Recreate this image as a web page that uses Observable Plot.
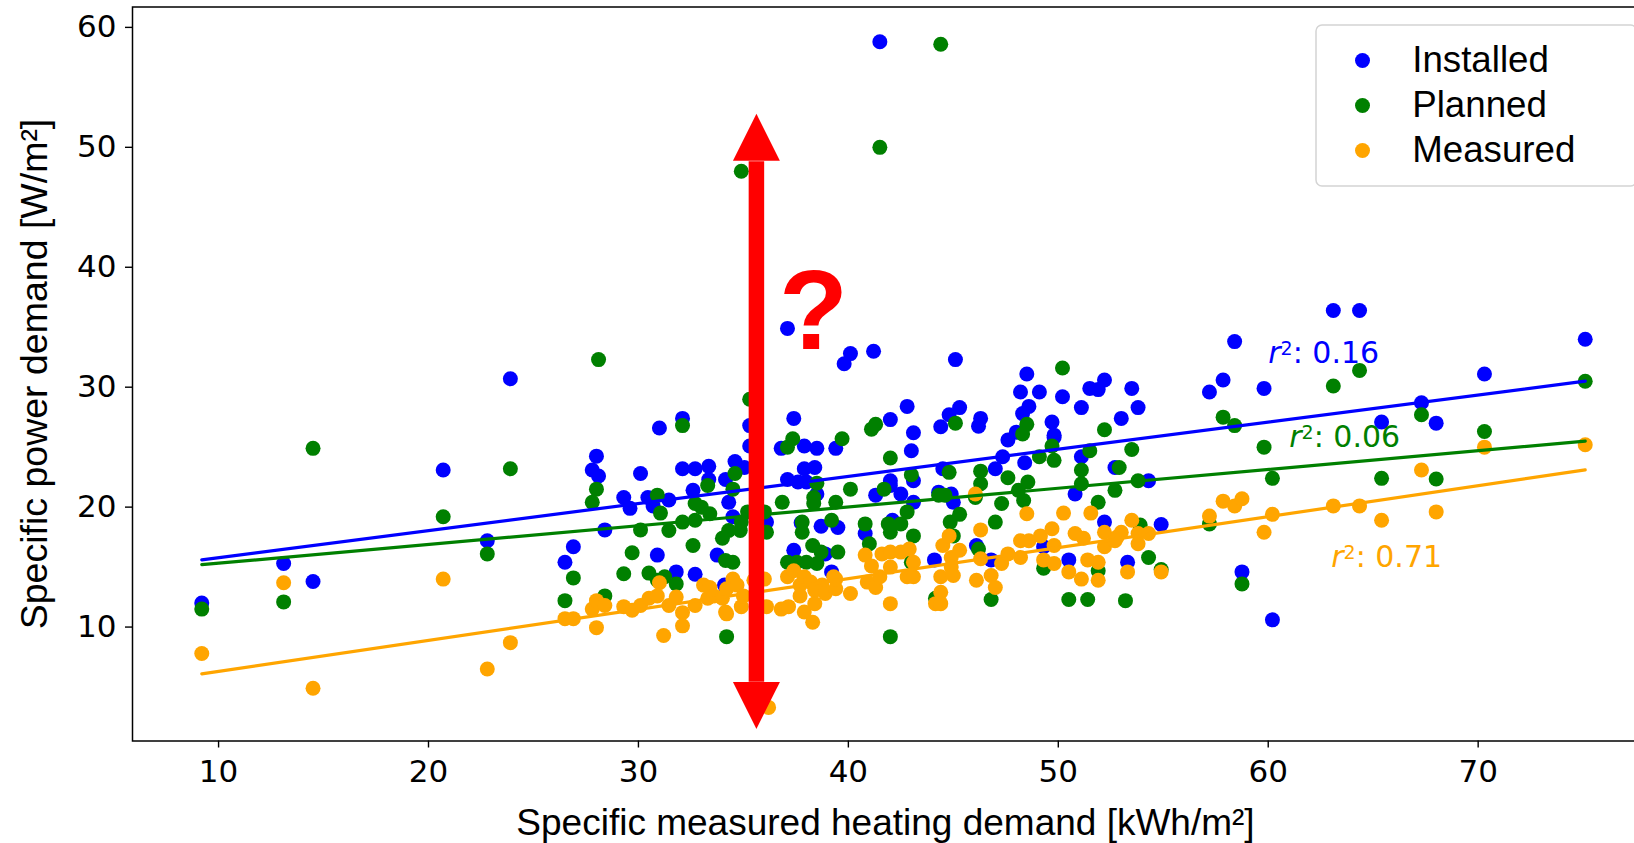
<!DOCTYPE html>
<html><head><meta charset="utf-8">
<script src="https://cdn.jsdelivr.net/npm/d3@7"></script>
<script src="https://cdn.jsdelivr.net/npm/@observablehq/plot@0.6"></script>
<style>
html, body { margin:0; padding:0; background:#fff; overflow:hidden; width:1634px; height:843px; }
#chart svg { display:block; max-width:none !important; }
</style></head>
<body><div id="chart"></div>
<script>
// ---- data: [heating demand kWh/m², power demand W/m²] ----
const installed = [
[9.2,12.0],[13.1,15.3],[14.5,13.8],[20.7,23.1],[22.8,17.2],[23.9,30.7],[26.5,15.4],[26.9,16.7],
[27.8,23.1],[28.0,24.25],[28.1,22.6],[28.4,18.1],[29.3,20.8],[29.6,19.9],[30.1,22.8],[30.45,20.8],
[30.7,20.1],[30.9,16.0],[31.0,26.6],[31.45,20.6],[31.8,14.6],[32.1,27.4],[32.1,23.2],[32.6,21.4],
[32.7,23.2],[32.7,14.4],[33.35,23.4],[33.35,22.3],[33.75,16.0],[34.1,13.5],[34.15,22.3],[34.3,20.4],
[34.5,19.2],[34.6,23.8],[35.05,23.3],[35.3,26.8],[35.3,25.1],[36.1,18.75],[36.8,24.9],[37.1,34.9],
[37.1,22.3],[37.4,27.4],[37.4,16.4],[37.6,22.1],[37.75,18.7],[37.9,25.1],[37.9,23.2],[38.0,22.1],
[38.4,23.3],[38.5,24.9],[38.5,21.1],[38.7,18.4],[38.9,16.1],[39.2,14.6],[39.4,24.9],[39.5,18.3],
[39.8,31.95],[40.1,32.8],[40.8,17.8],[41.2,33.0],[41.3,21.0],[41.5,58.8],[42.0,27.3],[42.0,22.2],
[42.0,21.8],[42.1,18.9],[42.5,21.1],[42.8,28.4],[43.0,24.7],[43.1,26.2],[43.1,22.2],[43.1,20.4],
[44.1,15.6],[44.3,21.25],[44.4,26.7],[44.5,23.2],[44.8,27.7],[44.9,21.1],[45.0,20.4],[45.1,32.3],
[45.3,28.3],[46.1,16.8],[46.2,26.75],[46.3,27.4],[46.8,15.6],[47.0,23.2],[47.35,24.2],[47.6,25.6],
[48.0,26.25],[48.2,29.6],[48.3,27.8],[48.4,23.7],[48.5,31.1],[48.6,28.4],[49.1,29.6],[49.3,16.7],
[49.7,27.1],[49.8,26.0],[49.8,25.8],[50.2,29.2],[50.5,15.6],[50.8,21.1],[51.1,28.3],[51.1,24.2],
[51.5,29.9],[51.9,29.8],[52.2,30.6],[52.2,18.75],[52.7,23.3],[53.0,27.4],[53.3,15.4],[53.5,29.9],
[53.8,28.3],[54.3,22.2],[54.9,18.55],[57.2,29.6],[57.85,30.6],[58.4,33.8],[58.75,14.6],[59.8,29.9],
[60.2,10.6],[63.1,36.4],[64.35,36.4],[65.4,27.1],[67.3,28.7],[68.0,27.0],[70.3,31.1],[75.1,34.0]
];
const planned = [
[9.2,11.5],[13.1,12.1],[14.5,24.9],[20.7,19.2],[22.8,16.1],[23.9,23.2],[26.5,12.2],[26.9,14.1],
[27.8,20.4],[28.0,21.5],[28.1,32.3],[28.4,12.6],[29.3,14.45],[29.7,16.2],[30.1,18.1],[30.5,14.5],
[30.9,21.0],[30.9,13.9],[31.05,19.5],[31.25,14.2],[31.45,18.05],[31.8,13.6],[32.1,26.8],[32.1,18.75],
[32.6,16.8],[32.7,20.3],[32.7,18.9],[33.0,20.0],[33.3,21.8],[33.4,19.45],[34.0,17.4],[34.15,15.55],
[34.2,9.2],[34.3,18.05],[34.5,21.5],[34.5,15.4],[34.6,22.8],[34.85,18.05],[34.9,18.75],[34.9,48.0],
[35.2,19.6],[35.3,29.0],[36.0,19.6],[36.1,17.9],[36.85,20.4],[37.1,25.0],[37.1,15.4],[37.35,25.7],
[37.55,15.4],[37.8,18.75],[37.8,17.9],[38.0,15.4],[38.3,16.8],[38.35,20.8],[38.35,20.3],[38.5,22.0],
[38.5,15.3],[38.7,16.25],[39.2,18.9],[39.4,20.4],[39.5,16.25],[39.7,25.7],[40.1,21.5],[40.8,18.6],
[41.0,16.95],[41.1,26.5],[41.3,26.9],[41.5,50.0],[41.7,21.5],[41.9,18.6],[42.0,24.1],[42.0,17.9],
[42.0,9.2],[42.5,18.6],[42.8,19.6],[43.0,22.7],[43.0,15.4],[43.1,17.6],[44.15,12.4],[44.3,21.0],
[44.4,58.6],[44.6,21.0],[44.8,22.9],[44.85,18.75],[45.0,17.6],[45.1,27.0],[45.3,19.4],[46.05,20.8],
[46.2,16.5],[46.3,23.0],[46.3,21.95],[46.8,12.3],[47.0,18.75],[47.3,20.3],[47.6,22.45],[48.1,21.4],
[48.3,26.1],[48.35,20.55],[48.5,26.9],[48.55,22.1],[49.1,24.2],[49.3,14.9],[49.7,25.1],[49.8,23.9],
[50.2,31.6],[50.5,12.3],[51.1,23.1],[51.1,21.95],[51.4,12.3],[51.5,24.7],[51.9,20.4],[51.9,14.7],
[52.2,26.45],[52.7,21.4],[52.9,23.3],[53.2,12.2],[53.5,24.8],[53.8,22.2],[53.9,18.5],[54.3,15.8],
[54.9,14.8],[57.2,18.6],[57.85,27.5],[58.4,26.8],[58.75,13.6],[59.8,25.0],[60.2,22.4],[63.1,30.1],
[64.35,31.4],[65.4,22.4],[67.3,27.7],[68.0,22.35],[70.3,26.3],[75.1,30.5]
];
const measured = [
[9.2,7.8],[13.1,13.7],[14.5,4.9],[20.7,14.0],[22.8,6.5],[23.9,8.7],[26.5,10.7],[26.9,10.7],
[27.8,11.5],[28.0,12.2],[28.0,9.95],[28.4,11.8],[29.3,11.7],[29.7,11.4],[30.1,11.8],[30.5,12.4],
[30.9,12.6],[31.0,13.7],[31.2,9.3],[31.45,11.8],[31.8,12.5],[32.1,11.2],[32.1,10.1],[32.7,11.8],
[33.1,13.5],[33.3,12.4],[33.4,13.3],[33.6,12.6],[34.0,12.4],[34.15,11.25],[34.2,13.2],[34.2,11.1],
[34.5,14.0],[34.7,13.5],[34.9,11.7],[35.0,12.6],[35.5,13.9],[36.0,14.0],[36.1,11.7],[36.2,3.3],
[36.8,11.5],[37.1,14.2],[37.15,11.7],[37.4,14.7],[37.7,13.5],[37.7,12.6],[37.9,14.2],[37.9,11.25],
[38.2,13.75],[38.3,10.4],[38.4,13.05],[38.4,11.95],[38.75,13.5],[38.9,12.8],[39.3,14.2],[39.4,13.2],
[39.4,14.0],[40.1,12.8],[40.8,16.0],[40.9,13.75],[41.1,15.1],[41.3,13.3],[41.5,14.2],[41.6,16.1],
[42.0,16.25],[42.0,15.0],[42.0,11.95],[42.5,16.25],[42.8,14.2],[42.9,16.5],[43.1,15.4],[43.1,14.2],
[44.15,11.95],[44.4,14.2],[44.4,12.9],[44.4,11.95],[44.5,16.8],[44.8,17.6],[44.9,15.8],[44.9,15.0],
[45.0,14.3],[45.3,16.4],[46.05,21.1],[46.1,13.9],[46.3,18.1],[46.3,15.7],[46.8,14.3],[47.0,13.3],
[47.3,15.3],[47.6,16.1],[48.2,17.2],[48.2,15.8],[48.5,19.45],[48.6,17.2],[49.15,17.6],[49.3,15.6],
[49.7,18.2],[49.8,16.8],[49.8,15.3],[50.25,19.5],[50.5,14.6],[50.8,17.8],[51.1,14.0],[51.2,17.4],
[51.4,15.6],[51.55,19.5],[51.9,15.4],[51.9,13.9],[52.2,17.9],[52.2,16.7],[52.7,17.2],[52.8,17.5],
[53.0,17.9],[53.3,14.6],[53.5,18.9],[53.8,17.8],[53.8,16.95],[54.3,17.8],[54.9,14.6],[57.2,19.25],
[57.85,20.5],[58.4,20.1],[58.75,20.7],[59.8,17.9],[60.2,19.4],[63.1,20.1],[64.35,20.1],[65.4,18.9],
[67.3,23.1],[68.0,19.6],[70.3,25.0],[75.1,25.2]
];
const seriesNames = ["Installed", "Planned", "Measured"];
const seriesColors = ["#0000ff", "#008000", "#ffa500"];
const seriesData = [installed, planned, measured];
// fitted regression lines, read at the ends of the data range
const fitX = [9.2, 75.1];
const fitInstalled = [15.6, 30.5];
const fitPlanned = [15.2, 25.5];
const fitMeasured = [6.1, 23.1];
const fitLines = [fitInstalled, fitPlanned, fitMeasured];
const r2Values = ["0.16", "0.06", "0.71"];
const r2X = [60.0, 61.0, 63.0];
const r2Y = [32.0, 25.0, 15.0];
const xTicks = [10, 20, 30, 40, 50, 60, 70];
const yTicks = [10, 20, 30, 40, 50, 60];
const xLabel = "Specific measured heating demand [kWh/m²]";
const yLabel = "Specific power demand [W/m²]";
// annotation: red double arrow and question mark (data units)
const arrowX = [35.62];
const arrowTipTop = 52.8, arrowTipBottom = 1.5;
const arrowShaftTop = 48.8, arrowShaftBottom = 5.4;
const questionMark = [{x: 38.34, y: 33.2, text: "?"}];

// ---- drawing ----
const headSymbol = {
  draw(ctx, size) {
    const w = 2 * Math.sqrt(size / Math.PI);
    ctx.moveTo(0, 0);
    ctx.lineTo(w / 2, w);
    ctx.lineTo(-w / 2, w);
    ctx.closePath();
  }
};
const W = 1680, H = 843;
const mL = 132, mR = 26, mT = 6.5, mB = 102.5;
const frameRight = W - mR;

const marks = [];
seriesData.forEach((d, i) => {
  marks.push(Plot.dot(d, {x: p => p[0], y: p => p[1], r: 7.5, fill: seriesColors[i]}));
});
fitLines.forEach((f, i) => {
  const pts = fitX.map((x, j) => [x, f[j]]);
  marks.push(Plot.line(pts, {x: p => p[0], y: p => p[1], stroke: seriesColors[i], strokeWidth: 3.2}));
});
r2Values.forEach((v, i) => {
  marks.push(Plot.text([v], {x: () => r2X[i], y: () => r2Y[i], text: t => t, fill: seriesColors[i],
    fontSize: 30, fontFamily: "DejaVu Sans", textAnchor: "start", lineAnchor: "bottom"}));
});
// legend
const legendRows = [60, 105, 150];
marks.push(Plot.frame({insetLeft: 1315.5 - mL, insetTop: 24.5 - mT, insetRight: frameRight - 1636, insetBottom: (H - mB) - 185.5,
  rx: 6, ry: 6, stroke: "#d4d4d4", strokeWidth: 1.5, fill: "white", fillOpacity: 0.8}));
seriesNames.forEach((name, i) => {
  marks.push(Plot.dot([name], {frameAnchor: "top-left", dx: 1362 - mL, dy: legendRows[i] - mT, r: 7.5, fill: seriesColors[i]}));
  marks.push(Plot.text([name], {frameAnchor: "top-left", dx: 1411.7 - mL, dy: legendRows[i] - mT, text: t => t,
    fontSize: 36.7, fontFamily: "Liberation Sans", textAnchor: "start", lineAnchor: "middle", fill: "black"}));
});
// arrow
marks.push(Plot.ruleX(arrowX, {x: d => d, y1: () => arrowShaftBottom, y2: () => arrowShaftTop, stroke: "#ff0000", strokeWidth: 15.5}));
marks.push(Plot.dot(arrowX, {x: d => d, y: () => arrowTipTop, symbol: headSymbol, r: 23.5, fill: "#ff0000"}));
marks.push(Plot.dot(arrowX, {x: d => d, y: () => arrowTipBottom, symbol: headSymbol, r: 23.5, fill: "#ff0000", rotate: 180}));
marks.push(Plot.text(questionMark, {x: "x", y: "y", text: "text", fill: "#ff0000", fontSize: 113, fontWeight: "bold",
  fontFamily: "Liberation Sans", textAnchor: "middle", lineAnchor: "bottom"}));
// axes
marks.push(Plot.axisX({ticks: xTicks, tickSize: 7, tickPadding: 12, strokeWidth: 1.4, fontSize: 31, fontFamily: "DejaVu Sans", label: null, tickFormat: d => String(d)}));
marks.push(Plot.axisY({ticks: yTicks, tickSize: 7, tickPadding: 9, strokeWidth: 1.4, fontSize: 31, fontFamily: "DejaVu Sans", label: null, tickFormat: d => String(d)}));
marks.push(Plot.frame({stroke: "black", strokeWidth: 1.5}));
marks.push(Plot.text([yLabel], {frameAnchor: "left", dx: 46 - mL, rotate: -90, text: t => t, fontSize: 37.5,
  fontFamily: "Liberation Sans", textAnchor: "middle", lineAnchor: "bottom", fill: "black"}));
marks.push(Plot.text([xLabel], {frameAnchor: "bottom", dx: -8, dy: 834.5 - (H - mB), text: t => t, fontSize: 37,
  fontFamily: "Liberation Sans", textAnchor: "middle", lineAnchor: "bottom", fill: "black"}));

const chart = Plot.plot({
  width: W, height: H,
  marginLeft: mL, marginRight: mR, marginTop: mT, marginBottom: mB,
  x: {domain: [5.9, 78.4]},
  y: {domain: [0.5, 61.7]},
  style: {fontFamily: "DejaVu Sans", fontSize: "30px", color: "black", background: "white", maxWidth: "none", overflow: "visible"},
  marks
});
document.getElementById("chart").appendChild(chart);

// mathtext-like "r²:" prefix for the fit labels
const NS = "http://www.w3.org/2000/svg";
chart.querySelectorAll("text").forEach(t => {
  const v = t.textContent;
  if (!r2Values.includes(v)) return;
  t.textContent = "";
  const a = document.createElementNS(NS, "tspan"); a.setAttribute("font-style", "italic"); a.textContent = "r";
  const b = document.createElementNS(NS, "tspan"); b.setAttribute("font-size", "19"); b.setAttribute("dy", "-8"); b.textContent = "2";
  const c = document.createElementNS(NS, "tspan"); c.setAttribute("dy", "8"); c.textContent = ": " + v;
  t.append(a, b, c);
});
</script>
</body></html>
